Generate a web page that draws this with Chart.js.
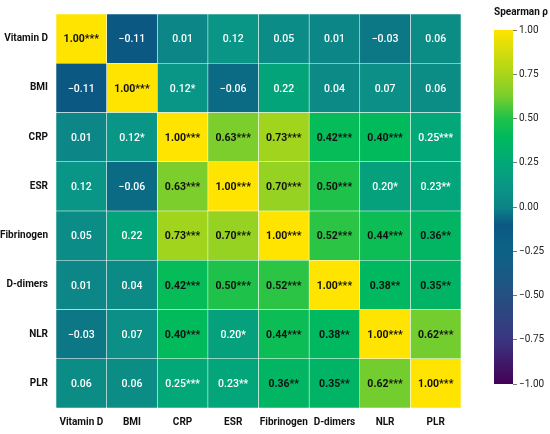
<!DOCTYPE html>
<html lang="en">
<head>
    <meta charset="utf-8">
    <title>Spearman correlation heatmap</title>
    <style>
        * {
            padding: 0;
            margin: 0;
            box-sizing: border-box;
        }
        body {
            width: 550px;
            height: 434px;
            background: #ffffff;
            position: relative;
            overflow: hidden;
        }
        #heat-box {
            position: absolute;
            left: 0;
            top: 0;
            width: 550px;
            height: 434px;
        }
        #bar-box {
            position: absolute;
            left: 474px;
            top: 0;
            width: 76px;
            height: 434px;
        }
    </style>
</head>
<body>
    <div id="heat-box"><canvas id="heat"></canvas></div>
    <div id="bar-box"><canvas id="scale"></canvas></div>

    <script src="https://cdn.jsdelivr.net/npm/chart.js@4.4.1/dist/chart.umd.min.js"></script>
    <script>
        // Variables, same order on both axes
        const variables = ["Vitamin D", "BMI", "CRP", "ESR", "Fibrinogen", "D-dimers", "NLR", "PLR"];

        // Spearman rho, one row per variable
        const rhoVitaminD  = [1.00, -0.11, 0.01, 0.12, 0.05, 0.01, -0.03, 0.06];
        const rhoBMI       = [-0.11, 1.00, 0.12, -0.06, 0.22, 0.04, 0.07, 0.06];
        const rhoCRP       = [0.01, 0.12, 1.00, 0.63, 0.73, 0.42, 0.40, 0.25];
        const rhoESR       = [0.12, -0.06, 0.63, 1.00, 0.70, 0.50, 0.20, 0.23];
        const rhoFibrin    = [0.05, 0.22, 0.73, 0.70, 1.00, 0.52, 0.44, 0.36];
        const rhoDdimers   = [0.01, 0.04, 0.42, 0.50, 0.52, 1.00, 0.38, 0.35];
        const rhoNLR       = [-0.03, 0.07, 0.40, 0.20, 0.44, 0.38, 1.00, 0.62];
        const rhoPLR       = [0.06, 0.06, 0.25, 0.23, 0.36, 0.35, 0.62, 1.00];
        const rho = [rhoVitaminD, rhoBMI, rhoCRP, rhoESR, rhoFibrin, rhoDdimers, rhoNLR, rhoPLR];

        // Significance marks
        const starsVitaminD = ["***", "", "", "", "", "", "", ""];
        const starsBMI      = ["", "***", "*", "", "", "", "", ""];
        const starsCRP      = ["", "*", "***", "***", "***", "***", "***", "***"];
        const starsESR      = ["", "", "***", "***", "***", "***", "*", "**"];
        const starsFibrin   = ["", "", "***", "***", "***", "***", "***", "**"];
        const starsDdimers  = ["", "", "***", "***", "***", "***", "**", "**"];
        const starsNLR      = ["", "", "***", "*", "***", "**", "***", "***"];
        const starsPLR      = ["", "", "***", "**", "**", "**", "***", "***"];
        const stars = [starsVitaminD, starsBMI, starsCRP, starsESR, starsFibrin, starsDdimers, starsNLR, starsPLR];

        // Colour bar ticks
        const scaleTicks = [-1.00, -0.75, -0.50, -0.25, 0.00, 0.25, 0.50, 0.75, 1.00];

        // Colour map stops (value -> colour)
        const mapValues = [-1.00, -0.75, -0.50, -0.25, -0.10, 0.00, 0.12, 0.25, 0.40, 0.50, 0.63, 0.75, 1.00];
        const mapColors = ["#440154", "#3b3580", "#24507f", "#0c6386", "#0b5883", "#0c8486",
                           "#0a9686", "#02a878", "#00ba5c", "#1ec24a", "#7bce2c", "#a9d51a", "#ffe400"];

        const FONT = "Roboto, 'DejaVu Sans', sans-serif";

        const hexToRgb = (h) => [1, 3, 5].map(i => parseInt(h.substr(i, 2), 16));

        const colourFor = (v) => {
            if (v <= mapValues[0]) return mapColors[0];
            for (let i = 1; i < mapValues.length; i++) {
                if (v <= mapValues[i]) {
                    const t = (v - mapValues[i - 1]) / (mapValues[i] - mapValues[i - 1]);
                    const a = hexToRgb(mapColors[i - 1]);
                    const b = hexToRgb(mapColors[i]);
                    const c = a.map((x, k) => Math.round(x + (b[k] - x) * t));
                    return `rgb(${c[0]},${c[1]},${c[2]})`;
                }
            }
            return mapColors[mapColors.length - 1];
        };

        const fmt = (v) => (v < 0 ? "\u2212" : "") + Math.abs(v).toFixed(2);

        // One dataset per column; each bar spans [col, col + 1] on the linear x scale
        const datasets = variables.map((name, col) => ({
            label: name,
            data: rho.map(() => [col, col + 1]),
            backgroundColor: rho.map(row => colourFor(row[col])),
            borderColor: "rgba(255,255,255,0.45)",
            borderWidth: 0.6,
            borderSkipped: false,
            barPercentage: 1,
            categoryPercentage: 1,
            grouped: false,
        }));

        // Write rho and stars inside each cell
        const cellText = {
            id: "cellText",
            afterDatasetsDraw(chart) {
                const ctx = chart.ctx;
                ctx.save();
                ctx.textAlign = "center";
                ctx.textBaseline = "middle";
                chart.data.datasets.forEach((ds, col) => {
                    const meta = chart.getDatasetMeta(col);
                    meta.data.forEach((bar, row) => {
                        const v = rho[row][col];
                        const dark = v >= 0.3;
                        ctx.fillStyle = dark ? "#111111" : "#ffffff";
                        ctx.font = `${dark ? "bold" : "500"} 10.5px ${FONT}`;
                        const cx = (bar.x + bar.base) / 2;
                        ctx.fillText(fmt(v) + stars[row][col], cx, bar.y + 1);
                    });
                });
                ctx.restore();
            }
        };

        new Chart(document.getElementById("heat"), {
            type: "bar",
            plugins: [cellText],
            data: { labels: variables, datasets: datasets },
            options: {
                indexAxis: "y",
                responsive: true,
                maintainAspectRatio: false,
                animation: false,
                layout: { padding: { top: 12, right: 89, left: 0, bottom: 0 } },
                plugins: {
                    legend: { display: false },
                    tooltip: { enabled: false },
                },
                scales: {
                    x: {
                        type: "linear",
                        min: 0,
                        max: 8,
                        display: false,
                    },
                    xLabels: {
                        type: "category",
                        labels: variables,
                        position: "bottom",
                        offset: true,
                        grid: { display: false, drawTicks: false, tickLength: 0 },
                        border: { display: false },
                        ticks: {
                            color: "#111111",
                            font: { family: FONT, size: 10, weight: "bold" },
                            padding: 8,
                            maxRotation: 0,
                            autoSkip: false,
                        },
                        afterFit: (s) => { s.height = 26; },
                    },
                    y: {
                        type: "category",
                        grid: { display: false, drawTicks: false, tickLength: 0 },
                        border: { display: false },
                        ticks: {
                            color: "#111111",
                            font: { family: FONT, size: 10, weight: "bold" },
                            padding: 8,
                        },
                        afterFit: (s) => { s.width = 56; },
                    },
                },
            },
        });

        // Colour bar as a single floating bar filled with the colour map
        new Chart(document.getElementById("scale"), {
            type: "bar",
            data: {
                labels: ["rho"],
                datasets: [{
                    data: [[-1, 1]],
                    backgroundColor: (context) => {
                        const chart = context.chart;
                        if (!chart.chartArea) return null;
                        const ys = chart.scales.y;
                        const g = chart.ctx.createLinearGradient(0, ys.getPixelForValue(-1), 0, ys.getPixelForValue(1));
                        mapValues.forEach((v, i) => g.addColorStop((v + 1) / 2, mapColors[i]));
                        return g;
                    },
                    borderWidth: 0,
                    barPercentage: 1,
                    categoryPercentage: 1,
                }],
            },
            options: {
                responsive: true,
                maintainAspectRatio: false,
                animation: false,
                layout: { padding: { top: 0, right: 0, left: 20, bottom: 50 } },
                plugins: {
                    legend: { display: false },
                    tooltip: { enabled: false },
                    title: {
                        display: true,
                        text: "Spearman \u03c1",
                        align: "start",
                        color: "#111111",
                        font: { family: FONT, size: 10, weight: "bold", lineHeight: 1.2 },
                        padding: { top: 6, bottom: 12 },
                    },
                },
                scales: {
                    x: { display: false },
                    y: {
                        position: "right",
                        min: -1,
                        max: 1,
                        afterBuildTicks: (s) => { s.ticks = scaleTicks.map(v => ({ value: v })); },
                        grid: { drawOnChartArea: false, tickLength: 4, color: "#777777" },
                        border: { display: false },
                        ticks: {
                            color: "#222222",
                            font: { family: FONT, size: 10 },
                            padding: 2,
                            callback: (v) => fmt(v),
                        },
                        afterFit: (s) => { s.width = 37; },
                    },
                },
            },
        });
    </script>
</body>
</html>
